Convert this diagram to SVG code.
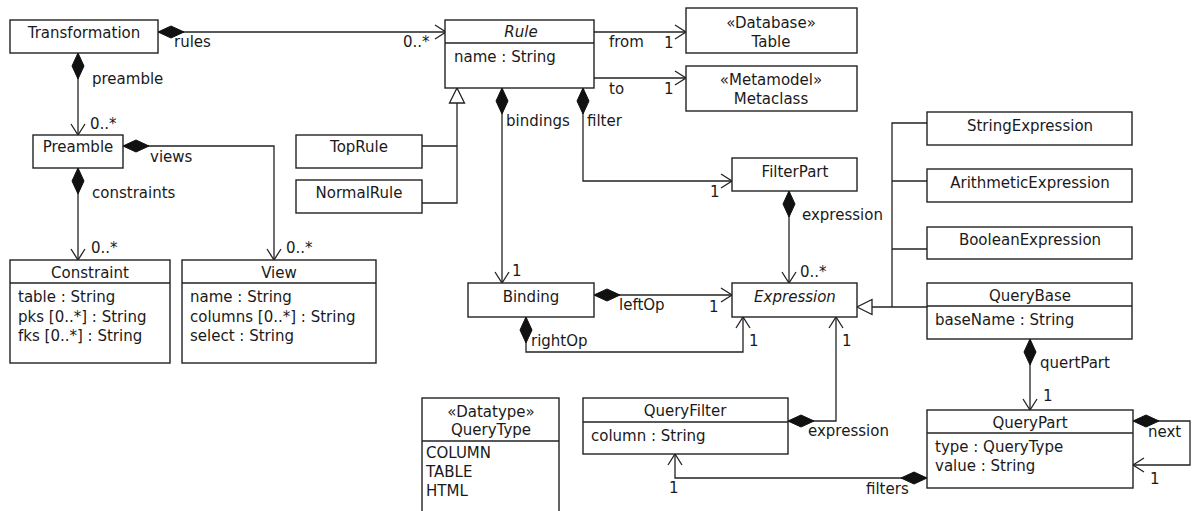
<svg xmlns="http://www.w3.org/2000/svg" width="1192" height="511" viewBox="0 0 1192 511">
<style>
  .box { fill: #fff; stroke: #222; stroke-width: 1.4; }
  .div { stroke: #222; stroke-width: 1.4; }
  text { font-family: "DejaVu Sans", "Liberation Sans", sans-serif; font-size: 15px; fill: #1a1a1a; }
  .c { text-anchor: middle; }
  .i { font-style: italic; }
  .lbl { font-size: 15px; }
  .edge { fill: none; stroke: #222; stroke-width: 1.3; }
</style>
<defs>
  <marker id="dia" markerUnits="userSpaceOnUse" markerWidth="30" markerHeight="16" refX="0" refY="0" viewBox="-2 -8 30 16" orient="auto" overflow="visible">
    <path d="M0,0 L13,-6 L26,0 L13,6 z" fill="#111" stroke="#111" stroke-width="1"/>
  </marker>
  <marker id="arr" markerUnits="userSpaceOnUse" markerWidth="16" markerHeight="16" refX="0" refY="0" viewBox="-14 -8 16 16" orient="auto" overflow="visible">
    <path d="M-11,-7 L0,0 L-11,7" fill="none" stroke="#222" stroke-width="1.3"/>
  </marker>
  <marker id="gen" markerUnits="userSpaceOnUse" markerWidth="20" markerHeight="20" refX="0" refY="0" viewBox="-18 -10 20 20" orient="auto" overflow="visible">
    <path d="M0,0 L-15,-7.5 L-15,7.5 z" fill="#fff" stroke="#222" stroke-width="1.3"/>
  </marker>
</defs>

<g id="connectors">
  <!-- rules -->
  <path class="edge" d="M158,32 H446" marker-start="url(#dia)" marker-end="url(#arr)"/>
  <text x="174" y="47">rules</text>
  <text x="403" y="47">0..*</text>
  <!-- preamble -->
  <path class="edge" d="M78,53 V135" marker-start="url(#dia)" marker-end="url(#arr)"/>
  <text x="92" y="84">preamble</text>
  <text x="90" y="129">0..*</text>
  <!-- views -->
  <path class="edge" d="M123,146 H274 V260" marker-start="url(#dia)" marker-end="url(#arr)"/>
  <text x="150" y="162">views</text>
  <text x="286" y="253">0..*</text>
  <!-- constraints -->
  <path class="edge" d="M78,168 V260" marker-start="url(#dia)" marker-end="url(#arr)"/>
  <text x="92" y="198">constraints</text>
  <text x="91" y="253">0..*</text>
  <!-- Rule generalization -->
  <path class="edge" d="M422,146 H457"/>
  <path class="edge" d="M422,203 H457 V88" marker-end="url(#gen)"/>
  <!-- from -->
  <path class="edge" d="M594,32 H686" marker-end="url(#arr)"/>
  <text x="609" y="47">from</text>
  <text x="664" y="48">1</text>
  <!-- to -->
  <path class="edge" d="M594,78 H686" marker-end="url(#arr)"/>
  <text x="609" y="94">to</text>
  <text x="664" y="94">1</text>
  <!-- bindings -->
  <path class="edge" d="M502,88 V283" marker-start="url(#dia)" marker-end="url(#arr)"/>
  <text x="506" y="126">bindings</text>
  <text x="512" y="276">1</text>
  <!-- filter -->
  <path class="edge" d="M583,88 V181 H732" marker-start="url(#dia)" marker-end="url(#arr)"/>
  <text x="587" y="126">filter</text>
  <text x="710" y="197">1</text>
  <!-- FilterPart expression -->
  <path class="edge" d="M789,191 V283" marker-start="url(#dia)" marker-end="url(#arr)"/>
  <text x="802" y="220">expression</text>
  <text x="800" y="277">0..*</text>
  <!-- leftOp -->
  <path class="edge" d="M594,295 H732" marker-start="url(#dia)" marker-end="url(#arr)"/>
  <text x="619" y="310">leftOp</text>
  <text x="709" y="312">1</text>
  <!-- rightOp -->
  <path class="edge" d="M526,317 V352 H743 V317" marker-start="url(#dia)" marker-end="url(#arr)"/>
  <text x="531" y="346">rightOp</text>
  <text x="749" y="346">1</text>
  <!-- QueryFilter expression -->
  <path class="edge" d="M788,421 H836 V317" marker-start="url(#dia)" marker-end="url(#arr)"/>
  <text x="808" y="436">expression</text>
  <text x="842" y="346">1</text>
  <!-- Expression generalization -->
  <path class="edge" d="M927,123 H892 V307"/>
  <path class="edge" d="M927,181 H892"/>
  <path class="edge" d="M927,249 H892"/>
  <path class="edge" d="M927,307 H857" marker-end="url(#gen)"/>
  <!-- quertPart -->
  <path class="edge" d="M1030,339 V410" marker-start="url(#dia)" marker-end="url(#arr)"/>
  <text x="1040" y="368">quertPart</text>
  <text x="1043" y="401">1</text>
  <!-- next -->
  <path class="edge" d="M1133,421 H1190 V465 H1133" marker-start="url(#dia)" marker-end="url(#arr)"/>
  <text x="1148" y="437">next</text>
  <text x="1150" y="484">1</text>
  <!-- filters -->
  <path class="edge" d="M927,478 H675 V454" marker-start="url(#dia)" marker-end="url(#arr)"/>
  <text x="866" y="494">filters</text>
  <text x="669" y="493">1</text>
</g>

<g id="Transformation">
  <rect class="box" x="10" y="20" width="148" height="33"/>
  <text class="c" x="84" y="38">Transformation</text>
</g>
<g id="Rule">
  <rect class="box" x="445" y="20" width="149" height="68"/>
  <line class="div" x1="445" y1="43" x2="594" y2="43"/>
  <text class="c i" x="521" y="37">Rule</text>
  <text x="454" y="62">name : String</text>
</g>
<g id="Table">
  <rect class="box" x="686" y="8" width="171" height="45"/>
  <text class="c" x="771" y="28">«Database»</text>
  <text class="c" x="771" y="47">Table</text>
</g>
<g id="Metaclass">
  <rect class="box" x="686" y="66" width="171" height="45"/>
  <text class="c" x="771" y="85">«Metamodel»</text>
  <text class="c" x="771" y="104">Metaclass</text>
</g>
<g id="Preamble">
  <rect class="box" x="33" y="135" width="90" height="33"/>
  <text class="c" x="78" y="152">Preamble</text>
</g>
<g id="TopRule">
  <rect class="box" x="296" y="135" width="126" height="33"/>
  <text class="c" x="359" y="152">TopRule</text>
</g>
<g id="NormalRule">
  <rect class="box" x="296" y="180" width="126" height="33"/>
  <text class="c" x="359" y="198">NormalRule</text>
</g>
<g id="FilterPart">
  <rect class="box" x="732" y="158" width="125" height="33"/>
  <text class="c" x="795" y="177">FilterPart</text>
</g>
<g id="Constraint">
  <rect class="box" x="10" y="260" width="160" height="103"/>
  <line class="div" x1="10" y1="283" x2="170" y2="283"/>
  <text class="c" x="90" y="278">Constraint</text>
  <text x="18" y="302">table : String</text>
  <text x="18" y="322">pks [0..*] : String</text>
  <text x="18" y="341">fks [0..*] : String</text>
</g>
<g id="View">
  <rect class="box" x="182" y="260" width="194" height="103"/>
  <line class="div" x1="182" y1="283" x2="376" y2="283"/>
  <text class="c" x="279" y="278">View</text>
  <text x="190" y="302">name : String</text>
  <text x="190" y="322">columns [0..*] : String</text>
  <text x="190" y="341">select : String</text>
</g>
<g id="StringExpression">
  <rect class="box" x="927" y="112" width="205" height="33"/>
  <text class="c" x="1030" y="131">StringExpression</text>
</g>
<g id="ArithmeticExpression">
  <rect class="box" x="927" y="169" width="205" height="33"/>
  <text class="c" x="1030" y="188">ArithmeticExpression</text>
</g>
<g id="BooleanExpression">
  <rect class="box" x="927" y="227" width="205" height="32"/>
  <text class="c" x="1030" y="245">BooleanExpression</text>
</g>
<g id="QueryBase">
  <rect class="box" x="927" y="283" width="205" height="56"/>
  <line class="div" x1="927" y1="306" x2="1132" y2="306"/>
  <text class="c" x="1030" y="301">QueryBase</text>
  <text x="935" y="325">baseName : String</text>
</g>
<g id="Binding">
  <rect class="box" x="468" y="283" width="126" height="34"/>
  <text class="c" x="531" y="302">Binding</text>
</g>
<g id="Expression">
  <rect class="box" x="732" y="283" width="125" height="34"/>
  <text class="c i" x="795" y="302">Expression</text>
</g>
<g id="QueryFilter">
  <rect class="box" x="583" y="398" width="205" height="56"/>
  <line class="div" x1="583" y1="422" x2="788" y2="422"/>
  <text class="c" x="685" y="416">QueryFilter</text>
  <text x="591" y="441">column : String</text>
</g>
<g id="QueryType">
  <rect class="box" x="422" y="398" width="137" height="125"/>
  <line class="div" x1="422" y1="441" x2="559" y2="441"/>
  <text class="c" x="491" y="417">«Datatype»</text>
  <text class="c" x="491" y="435">QueryType</text>
  <text x="426" y="458">COLUMN</text>
  <text x="426" y="477">TABLE</text>
  <text x="426" y="496">HTML</text>
</g>
<g id="QueryPart">
  <rect class="box" x="927" y="410" width="206" height="78"/>
  <line class="div" x1="927" y1="433" x2="1133" y2="433"/>
  <text class="c" x="1030" y="428">QueryPart</text>
  <text x="935" y="452">type : QueryType</text>
  <text x="935" y="471">value : String</text>
</g>
</svg>
